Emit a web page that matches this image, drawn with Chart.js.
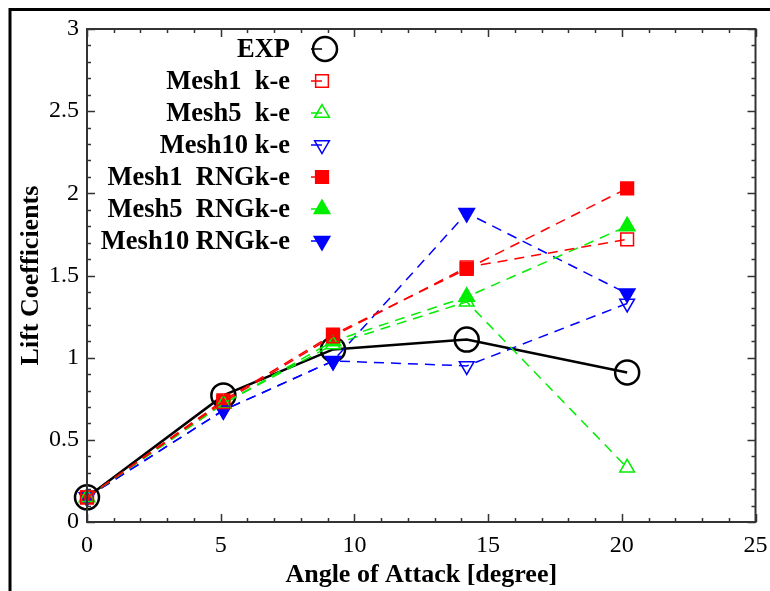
<!DOCTYPE html>
<html>
<head>
<meta charset="utf-8">
<script src="https://cdn.jsdelivr.net/npm/chart.js@4.4.1/dist/chart.umd.min.js"></script>
<style>
  html, body { margin: 0; padding: 0; background: #fff; }
  #wrap { width: 770px; height: 591px; }
</style>
</head>
<body>
<div id="wrap"><canvas id="plot"></canvas></div>
<script>
// values
var angles = [0, 5.1, 9.2, 14.2, 20.2];
var expCl = [0.15, 0.77, 1.05, 1.11, 0.91];
var mesh1Ke = [0.15, 0.73, 1.13, 1.55, 1.72];
var mesh5Ke = [0.15, 0.72, 1.08, 1.34, 0.33];
var mesh10Ke = [0.15, 0.68, 0.98, 0.95, 1.33];
var mesh1Rng = [0.15, 0.74, 1.14, 1.54, 2.03];
var mesh5Rng = [0.15, 0.72, 1.10, 1.37, 1.80];
var mesh10Rng = [0.15, 0.68, 0.98, 1.88, 1.39];

var xTicks = [0, 5, 10, 15, 20, 25];
var yTicks = [0, 0.5, 1, 1.5, 2, 2.5, 3];

var serif = '"Liberation Serif", "DejaVu Serif", serif';

function pts(ys) {
  return ys.map(function (y, i) { return {x: angles[i], y: y}; });
}

function series(label, ys, color, style, filled, rot, r) {
  return {
    label: label,
    data: pts(ys),
    borderColor: color,
    backgroundColor: color,
    borderWidth: 1.5,
    borderDash: [10, 7],
    pointStyle: style,
    pointRotation: rot,
    pointRadius: r,
    pointBorderWidth: 1.5,
    pointBorderColor: color,
    pointBackgroundColor: filled ? color : 'rgba(255,255,255,0)',
    clip: false,
    tension: 0
  };
}

var datasets = [
  series('Mesh1  k-e', mesh1Ke, '#ff0000', 'rect', false, 0, 9),
  series('Mesh5  k-e', mesh5Ke, '#00ee00', 'triangle', false, 0, 8.5),
  series('Mesh10 k-e', mesh10Ke, '#0000ff', 'triangle', false, 180, 8.5),
  series('Mesh1  RNGk-e', mesh1Rng, '#ff0000', 'rect', true, 0, 9),
  series('Mesh5  RNGk-e', mesh5Rng, '#00ee00', 'triangle', true, 0, 9),
  series('Mesh10 RNGk-e', mesh10Rng, '#0000ff', 'triangle', true, 180, 9),
  {
    label: 'EXP',
    data: pts(expCl),
    borderColor: '#000',
    borderWidth: 2.5,
    pointStyle: 'circle',
    pointRadius: 12,
    pointBorderWidth: 2.5,
    pointBorderColor: '#000',
    pointBackgroundColor: 'rgba(255,255,255,0)',
    clip: false,
    tension: 0
  }
];

// legend order as in the figure
var legendOrder = [6, 0, 1, 2, 3, 4, 5];

// box, inward ticks, legend and outer frame
var decor = {
  id: 'decor',
  afterDraw: function (chart) {
    var ctx = chart.ctx, a = chart.chartArea;
    var xs = chart.scales.x, ys = chart.scales.y;
    ctx.save();
    ctx.strokeStyle = '#333';
    ctx.lineWidth = 1.5;
    ctx.beginPath();
    for (var v = 0; v <= 25; v++) {
      var px = Math.round(xs.getPixelForValue(v)) + 0.5;
      var len = v % 5 === 0 ? 8 : 4;
      ctx.moveTo(px, a.bottom); ctx.lineTo(px, a.bottom - len);
      ctx.moveTo(px, a.top); ctx.lineTo(px, a.top + len);
    }
    for (var k = 0; k <= 30; k++) {
      var py = Math.round(ys.getPixelForValue(k / 10)) + 0.5;
      var l2 = k % 5 === 0 ? 8 : 4;
      ctx.moveTo(a.left, py); ctx.lineTo(a.left + l2, py);
      ctx.moveTo(a.right, py); ctx.lineTo(a.right - l2, py);
    }
    ctx.stroke();
    ctx.lineWidth = 2;
    ctx.strokeRect(a.left, a.top, a.right - a.left, a.bottom - a.top);

    // legend
    ctx.font = 'bold 26.5px ' + serif;
    ctx.textAlign = 'right';
    ctx.textBaseline = 'middle';
    legendOrder.forEach(function (di, row) {
      var ds = chart.data.datasets[di];
      var y = 49 + row * 32;
      ctx.fillStyle = '#000';
      ctx.fillText(ds.label, 290, y + 1);
      ctx.strokeStyle = ds.borderColor;
      ctx.lineWidth = 1.5;
      ctx.setLineDash([]);
      ctx.beginPath();
      ctx.moveTo(311, y); ctx.lineTo(322, y);
      ctx.stroke();
      ctx.fillStyle = ds.pointBackgroundColor;
      ctx.strokeStyle = ds.pointBorderColor;
      ctx.lineWidth = ds.pointBorderWidth;
      Chart.helpers.drawPoint(ctx, {
        pointStyle: ds.pointStyle,
        rotation: ds.pointRotation || 0,
        radius: ds.pointRadius,
        borderWidth: ds.pointBorderWidth
      }, di === 6 ? 325 : 322, y);
    });

    // outer frame
    ctx.strokeStyle = '#000';
    ctx.lineWidth = 3;
    ctx.strokeRect(10, 9.5, 900, 900);
    ctx.restore();
  }
};

new Chart(document.getElementById('plot'), {
  type: 'line',
  data: { datasets: datasets },
  options: {
    responsive: true,
    maintainAspectRatio: false,
    animation: false,
    events: [],
    layout: { padding: { left: 16, top: 29, right: 0, bottom: 0 } },
    plugins: { legend: { display: false }, tooltip: { enabled: false } },
    scales: {
      x: {
        type: 'linear',
        min: 0, max: 25,
        afterBuildTicks: function (s) { s.ticks = xTicks.map(function (v) { return {value: v}; }); },
        afterFit: function (s) { s.height = 69; s.paddingRight = 13; s.paddingLeft = 0; },
        grid: { display: false, drawTicks: false },
        border: { display: false },
        ticks: { color: '#000', padding: 9, font: { family: serif, size: 24 } },
        title: {
          display: true, text: 'Angle of Attack [degree]', color: '#000',
          font: { family: serif, size: 26, weight: 'bold' }, padding: { top: 0, bottom: 0 }
        }
      },
      y: {
        min: 0, max: 3,
        afterBuildTicks: function (s) { s.ticks = yTicks.map(function (v) { return {value: v}; }); },
        afterFit: function (s) { s.width = 71; },
        grid: { display: false, drawTicks: false },
        border: { display: false },
        ticks: {
          color: '#000', padding: 8, font: { family: serif, size: 24 },
          callback: function (v) { return String(v); }
        },
        title: {
          display: true, text: 'Lift Coefficients', color: '#000',
          font: { family: serif, size: 26, weight: 'bold' }, padding: { top: 0, bottom: 2 }
        }
      }
    }
  },
  plugins: [decor]
});
</script>
</body>
</html>
